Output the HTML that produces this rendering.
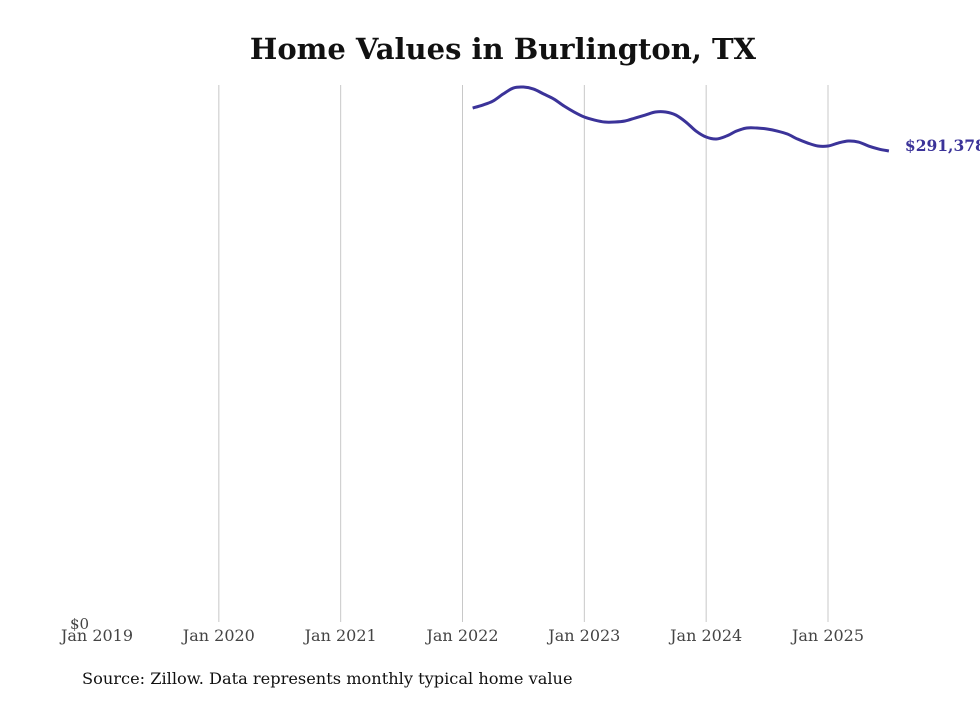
<!DOCTYPE html>
<html><head><meta charset="utf-8"><style>
body{margin:0;background:#fff;width:980px;height:699px;overflow:hidden;font-family:"DejaVu Serif","Liberation Serif",serif}
</style></head><body>
<svg width="980" height="699" id="c">
<text x="503" y="59" text-anchor="middle" font-size="29" font-weight="bold" fill="#111">Home Values in Burlington, TX</text>
<text x="82" y="684" font-size="16.2" fill="#111">Source: Zillow. Data represents monthly typical home value</text>
<g id="grid"></g><g id="xt"></g><g id="ln"></g>
</svg>
<script>
const xTicks=["Jan 2019","Jan 2020","Jan 2021","Jan 2022","Jan 2023","Jan 2024","Jan 2025"];
const startMonth=37; // months after Jan 2019 (Feb 2022)
const values=[317960,319816,322291,326621,330333,330951,329714,326621,323528,319198,315486,312393,310537,309300,309300,309919,311774,313630,315486,315486,313630,309300,303733,300021,298784,300640,303733,305588,305588,304970,303733,301877,298784,296309,294454,294454,296309,297547,296928,294454,292598,291378];
const yMin=0,yMax=291378/471*537;
const X=m=>97+m*(731/72);
const Y=v=>622-(v-yMin)/(yMax-yMin)*537;
const ns="http://www.w3.org/2000/svg";
const svg=document.getElementById('c');
function mk(t,a,p){const e=document.createElementNS(ns,t);for(const k in a)e.setAttribute(k,a[k]);document.getElementById(p).appendChild(e);return e;}
xTicks.forEach((t,i)=>{
 const x=X(i*12);
 if(i>0){const l=mk('line',{x1:x,x2:x,y1:85,y2:622,stroke:'#c8c8c8','stroke-width':1},'grid');
 
 }
 const tx=mk('text',{x:x,y:641,'text-anchor':'middle','font-size':16,fill:'#444'},'xt');tx.textContent=t;
 
 
});
const z=mk('text',{x:70,y:629,'font-size':15,fill:'#444'},'xt');z.textContent='$0';


const pts=values.map((v,i)=>[X(startMonth+i),Y(v)]);
let d='M'+pts[0][0]+','+pts[0][1];
for(let i=0;i<pts.length-1;i++){
 const p0=pts[i-1]||pts[i],p1=pts[i],p2=pts[i+1],p3=pts[i+2]||p2;
 d+=` C${p1[0]+(p2[0]-p0[0])/6},${p1[1]+(p2[1]-p0[1])/6} ${p2[0]-(p3[0]-p1[0])/6},${p2[1]-(p3[1]-p1[1])/6} ${p2[0]},${p2[1]}`;
}
const path=mk('path',{d:d,fill:'none',stroke:'#3b3399','stroke-width':3,'stroke-linejoin':'round'},'ln');


const last=pts[pts.length-1];
const lb=mk('text',{x:last[0]+16,y:last[1]+0,'font-size':15.5,'font-weight':'bold',fill:'#3b3399'},'ln');
lb.textContent='$'+values[values.length-1].toLocaleString('en-US');


</script>
</body></html>
